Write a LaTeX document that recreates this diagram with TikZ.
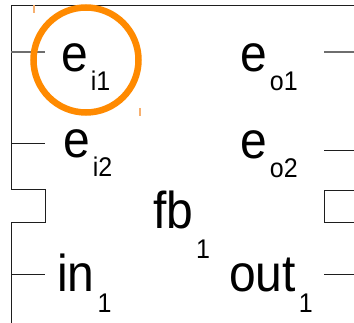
\documentclass[tikz,border=0pt]{standalone}
\usepackage{fontspec}
\setmainfont{Liberation Sans}
\usepackage{tikz}
\usetikzlibrary{positioning}
\usepackage{xcolor}
\definecolor{BlockLine}{HTML}{1E1E1E}
\definecolor{PinGray}{HTML}{6E6E6E}
\definecolor{MarkOrange}{HTML}{FF8A00}
\definecolor{HandleOrange}{HTML}{F7B070}
\newcommand{\subfont}{\fontsize{25}{25}\selectfont}
\newcommand{\pinname}[3][-16.7pt]{\scalebox{1}[1.08]{#2\kern3pt\raisebox{#1}{\subfont #3}}}
\tikzset{
  outline/.style={draw=BlockLine,line width=1pt},
  pinline/.style={draw=BlockLine,line width=0.9pt},
  toppin/.style={draw=PinGray,line width=1.6pt},
  pinlabel/.style={anchor=base west,inner sep=0pt,font=\fontsize{48}{48}\selectfont},
  marker/.style={draw=MarkOrange,line width=6.5pt},
  handle/.style={draw=HandleOrange,line width=2pt}
}

\begin{document}
\begin{tikzpicture}[x=1pt,y=-1pt]
  \useasboundingbox (0,0) rectangle (354,323);
  % block outline with the notches
  \draw[outline] (354,6) -- (11,6) -- (11,190) -- (45,190) -- (45,223) -- (11,223) -- (11,323);
  \draw[outline] (354,191) -- (324,191) -- (324,223) -- (354,223);
  % pins
  \coordinate (li1) at (11,52);   \coordinate (li1e) at (45,52);
  \coordinate (li2) at (11,143);  \coordinate (li2e) at (45,143);
  \coordinate (lin) at (11,274);  \coordinate (line) at (45,274);
  \coordinate (ro1) at (324,52);  \coordinate (ro1e) at (354,52);
  \coordinate (ro2) at (324,150); \coordinate (ro2e) at (354,150);
  \coordinate (rout) at (324,274);\coordinate (route) at (354,274);
  \draw[toppin] (li1) -- (li1e);
  \draw[toppin] (ro1) -- (ro1e);
  \draw[pinline] (li2) -- (li2e);
  \draw[pinline] (lin) -- (line);
  \draw[pinline] (ro2) -- (ro2e);
  \draw[pinline] (rout) -- (route);
  % labels
  \node[pinlabel] (ei1) at (61,72) {\pinname{e}{i1}};
  \node[pinlabel] (eo1) at (240,72) {\pinname{e}{o1}};
  \node[pinlabel] (ei2) at (63,158) {\pinname{e}{i2}};
  \node[pinlabel] (eo2) at (240,159) {\pinname{e}{o2}};
  \node[pinlabel] (fb) at (153,229) {\pinname[-26.9pt]{fb}{1}};
  \node[pinlabel] (in) at (57,292) {\pinname[-19.4pt]{in}{1}};
  \node[pinlabel] (out) at (229,292) {\pinname[-19.4pt]{out}{1}};
  % highlight
  \node[circle,marker,minimum size=105pt,inner sep=0pt] (mark) at (86,60) {};
  \coordinate (hnw) at (34,5);  \coordinate (hnws) at (34,13);
  \coordinate (hse) at (140,108); \coordinate (hses) at (140,116);
  \draw[handle] (hnw) -- (hnws);
  \draw[handle] (hse) -- (hses);
\end{tikzpicture}
\end{document}
